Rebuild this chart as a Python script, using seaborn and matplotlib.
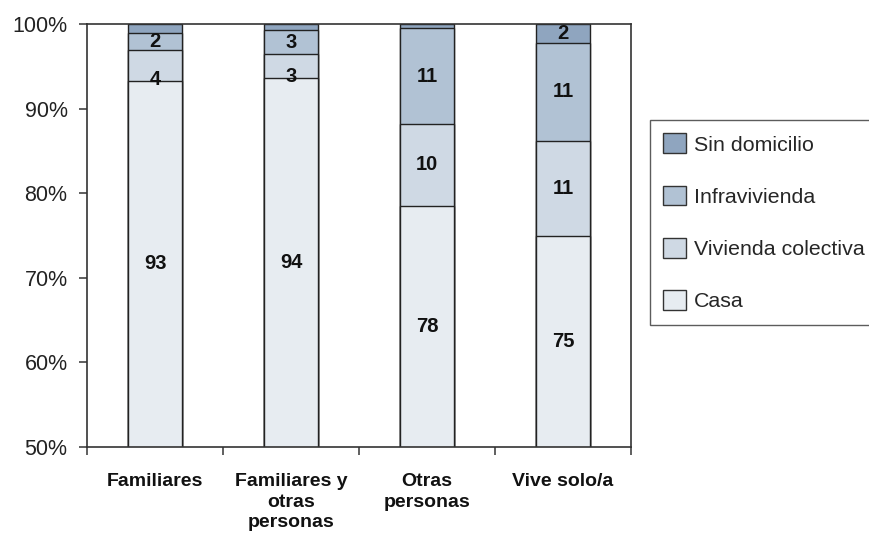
import numpy as np
import pandas as pd
import seaborn as sns
import matplotlib.pyplot as plt
from matplotlib.patches import Patch

sns.set_theme(style="white")
plt.rcParams["font.family"] = ["Liberation Sans", "DejaVu Sans"]

# data (percent of each group)
categories = ["Familiares", "Familiares y\notras\npersonas", "Otras\npersonas", "Vive solo/a"]
casa = [93.3, 93.6, 78.5, 74.9]
vivienda_colectiva = [3.6, 2.85, 9.7, 11.3]
infravivienda = [2.0, 2.85, 11.3, 11.6]
sin_domicilio = [1.1, 0.7, 0.5, 2.2]

casa_lbl = ["93", "94", "78", "75"]
vc_lbl = ["4", "3", "10", "11"]
infra_lbl = ["2", "3", "11", "11"]
sin_lbl = ["", "", "", "2"]

series = ["Casa", "Vivienda colectiva", "Infravivienda", "Sin domicilio"]
colors = {"Casa": "#E7ECF1", "Vivienda colectiva": "#CFD9E4",
          "Infravivienda": "#B1C2D4", "Sin domicilio": "#8FA5BF"}

df = pd.DataFrame({"grupo": categories, "Casa": casa,
                   "Vivienda colectiva": vivienda_colectiva,
                   "Infravivienda": infravivienda,
                   "Sin domicilio": sin_domicilio})
cum = df[series].cumsum(axis=1)
bottoms = cum - df[series]
ymin = 50

fig = plt.figure(figsize=(8.7, 5.36), dpi=100)
ax = fig.add_axes([0.1, 0.166, 0.6253, 0.789])

# stacked bars: draw cumulative totals from top layer down
for s in reversed(series):
    sns.barplot(x=df["grupo"], y=cum[s], color=colors[s], width=0.40,
                edgecolor="#222222", linewidth=1.0, saturation=1, ax=ax)

labels = {"Casa": casa_lbl, "Vivienda colectiva": vc_lbl,
          "Infravivienda": infra_lbl, "Sin domicilio": sin_lbl}
for s in series:
    for i in range(len(categories)):
        txt = labels[s][i]
        if not txt:
            continue
        lo = max(bottoms[s][i], ymin)
        hi = cum[s][i]
        y = (lo + hi) / 2
        if hi - lo < 4 and s == "Vivienda colectiva":
            y = lo + 0.2
        ax.text(i, y, txt, ha="center", va="center", fontsize=14.5,
                fontweight="bold", color="#111111")

ax.set_ylim(ymin, 100)
ax.set_xlim(-0.5, 3.5)
ax.set_yticks(np.arange(50, 101, 10))
ax.set_yticklabels([f"{v}%" for v in range(50, 101, 10)])
ax.set_xticks([-0.5, 0.5, 1.5, 2.5, 3.5], minor=True)
ax.set_xticks(range(len(categories)))
ax.set_xticklabels(categories, fontweight="bold", fontsize=14, linespacing=1.25)
ax.tick_params(axis="x", which="major", length=0, pad=19, colors="#111111")
ax.tick_params(axis="x", which="minor", length=6, width=1.2, color="#444444",
               direction="out", bottom=True)
ax.tick_params(axis="y", length=6, width=1.2, color="#444444", direction="out",
               left=True, pad=8, labelsize=15.5, labelcolor="#222222")
ax.set_xlabel("")
ax.set_ylabel("")
for sp in ax.spines.values():
    sp.set_color("#333333")
    sp.set_linewidth(1.2)

handles = [Patch(facecolor=colors[s], edgecolor="#333333", label=s)
           for s in reversed(series)]
leg = fig.legend(handles=handles, loc="upper left",
                 bbox_to_anchor=(0.747, 0.776), fontsize=15.4, frameon=True,
                 fancybox=False, edgecolor="#333333", labelspacing=1.45,
                 handlelength=1.05, handleheight=1.05, handletextpad=0.4,
                 borderpad=0.62, borderaxespad=0)
leg.get_frame().set_linewidth(1.0)

fig.savefig("out.png", dpi=100)
